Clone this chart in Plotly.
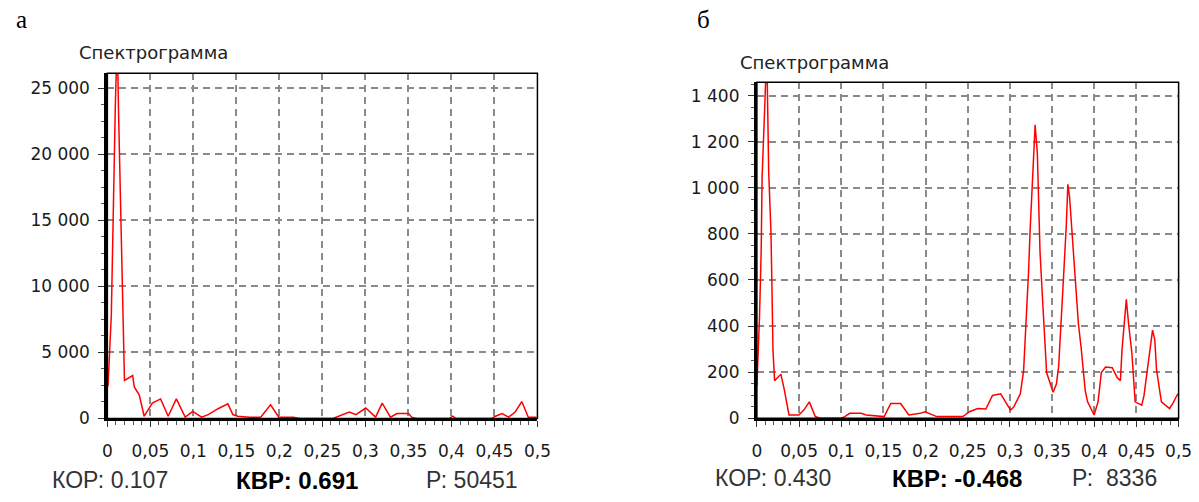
import plotly.graph_objects as go

W, H = 1199, 502

# ---------------- data ----------------
freq_a = [0.0, 0.0008, 0.0046, 0.0065, 0.0077, 0.0092, 0.0115, 0.0130, 0.0149, 0.0168,
          0.0187, 0.0199, 0.0294, 0.0313, 0.0371, 0.0428, 0.0523, 0.0619, 0.0707, 0.0802,
          0.0905, 0.0993, 0.1096, 0.1172, 0.1287, 0.1401, 0.1459, 0.1515, 0.1649, 0.1783,
          0.1897, 0.1993, 0.2164, 0.2240, 0.2622, 0.2661, 0.2813, 0.2890, 0.3004, 0.3119,
          0.3195, 0.3291, 0.3367, 0.3501, 0.3539, 0.3596, 0.3977, 0.4016, 0.4054, 0.4470,
          0.4512, 0.4589, 0.4665, 0.4741, 0.4818, 0.4894, 0.4989]
power_a = [2400, 2514, 7814, 12990, 18290, 23470, 29000, 23220, 17300, 11630,
           5720, 2884, 3254, 2391, 1775, 173, 1160, 1480, 173, 1480,
           100, 542, 100, 296, 740, 1109, 296, 173, 100, 100,
           1035, 100, 100, 0, 0, 100, 493, 296, 789, 100,
           1160, 100, 370, 370, 100, 0, 0, 173, 0, 0,
           173, 370, 100, 493, 1282, 100, 100]

freq_b = [0.0, 0.0031, 0.0051, 0.0062, 0.0090, 0.0117, 0.0140, 0.0167, 0.0179, 0.0191,
          0.0210, 0.0284, 0.0323, 0.0381, 0.0498, 0.0556, 0.0622, 0.0692, 0.0750, 0.1000,
          0.1042, 0.1100, 0.1237, 0.1295, 0.1509, 0.1587, 0.1704, 0.1801, 0.1937, 0.1995,
          0.2132, 0.2442, 0.2520, 0.2618, 0.2715, 0.2793, 0.2890, 0.3007, 0.3046, 0.3123,
          0.3162, 0.3201, 0.3221, 0.3240, 0.3267, 0.3299, 0.3325, 0.3338, 0.3357, 0.3388,
          0.3415, 0.3435, 0.3512, 0.3551, 0.3578, 0.3610, 0.3637, 0.3668, 0.3687, 0.3707,
          0.3726, 0.3753, 0.3784, 0.3812, 0.3843, 0.3870, 0.3893, 0.3921, 0.3998, 0.4045,
          0.4084, 0.4134, 0.4213, 0.4271, 0.4310, 0.4329, 0.4356, 0.4380, 0.4407, 0.4446,
          0.4485, 0.4563, 0.4590, 0.4621, 0.4660, 0.4691, 0.4718, 0.4738, 0.4796, 0.4893,
          0.4932, 0.4990]
power_b = [141, 438, 728, 1049, 1323, 1600, 1069, 806, 558, 290,
           163, 191, 127, 14, 14, 35, 71, 7, 0, 0,
           7, 21, 21, 14, 7, 64, 64, 14, 21, 28,
           7, 7, 28, 42, 40, 99, 106, 35, 49, 106,
           205, 466, 636, 820, 1011, 1274, 1150, 960, 721, 509,
           311, 198, 113, 148, 226, 466, 622, 834, 1015, 961,
           862, 707, 537, 410, 311, 212, 120, 71, 14, 71,
           198, 222, 219, 177, 163, 297, 424, 516, 410, 283,
           71, 57, 99, 184, 297, 382, 339, 212, 71, 42,
           64, 106]

x_tickvals = [0, 0.05, 0.1, 0.15, 0.2, 0.25, 0.3, 0.35, 0.4, 0.45, 0.5]
x_ticktext = ["0", "0,05", "0,1", "0,15", "0,2", "0,25", "0,3", "0,35", "0,4", "0,45", "0,5"]

y_tickvals_a = [0, 5000, 10000, 15000, 20000, 25000]
y_ticktext_a = ["0", "5 000", "10 000", "15 000", "20 000", "25 000"]
y_tickvals_b = [0, 200, 400, 600, 800, 1000, 1200, 1400]
y_ticktext_b = ["0", "200", "400", "600", "800", "1 000", "1 200", "1 400"]

panel_labels = ["а", "б"]
chart_title = "Спектрограмма"
stats_a = ["КОР: 0.107", "КВР: 0.691", "Р: 50451"]
stats_b = ["КОР: 0.430", "КВР: -0.468", "Р:  8336"]

# ---------------- figure ----------------
fig = go.Figure()
fig.add_trace(go.Scatter(x=freq_a, y=power_a, mode="lines",
                         line=dict(color="#ff0000", width=1.5), xaxis="x", yaxis="y",
                         showlegend=False, hoverinfo="skip"))
fig.add_trace(go.Scatter(x=freq_b, y=power_b, mode="lines",
                         line=dict(color="#ff0000", width=1.5), xaxis="x2", yaxis="y2",
                         showlegend=False, hoverinfo="skip"))

tickfont = dict(family="DejaVu Sans", size=17, color="#1a1a1a")
grid = dict(showgrid=True, gridcolor="#8a8a8a", gridwidth=1.5, griddash="7px,5px")

def xaxis(domain, anchor):
    return dict(domain=domain, anchor=anchor, range=[0, 0.5], tickvals=x_tickvals,
                ticktext=x_ticktext, ticks="outside", ticklen=6, tickwidth=1, tickcolor="#333",
                ticklabelstandoff=9,
                minor=dict(dtick=0.01, ticks="outside", ticklen=4, tickwidth=1, tickcolor="#555",
                           showgrid=False, tick0=0),
                showline=True, linewidth=3, linecolor="black", zeroline=False,
                tickfont=tickfont, fixedrange=True, **grid)

def yaxis(domain, anchor, rng, tv, tt, minor_dt):
    return dict(domain=domain, anchor=anchor, range=rng, tickvals=tv, ticktext=tt,
                ticks="outside", ticklen=6, tickwidth=1, tickcolor="#333",
                ticklabelstandoff=5,
                minor=dict(dtick=minor_dt, ticks="outside", ticklen=3, tickwidth=1,
                           tickcolor="#555", showgrid=False, tick0=0),
                showline=True, linewidth=3, linecolor="black", zeroline=False,
                tickfont=tickfont, fixedrange=True, **grid)

xa_dom = [104 / W, 541 / W]
ya_dom = [(H - 427) / H, (H - 74.7) / H]
xb_dom = [764 / W, 1192.5 / W]
yb_dom = [(H - 426.7) / H, (H - 84) / H]

fig.update_layout(
    width=W, height=H, margin=dict(l=0, r=0, t=0, b=0),
    paper_bgcolor="white", plot_bgcolor="white",
    xaxis=xaxis(xa_dom, "y"),
    yaxis=yaxis(ya_dom, "x", [0, 26130], y_tickvals_a, y_ticktext_a, 1250),
    xaxis2=xaxis(xb_dom, "y2"),
    yaxis2=yaxis(yb_dom, "x2", [0, 1458], y_tickvals_b, y_ticktext_b, 50),
)

# thin frame on top/right
for xr, yr in (("x domain", "y domain"), ("x2 domain", "y2 domain")):
    fig.add_shape(type="rect", xref=xr, yref=yr, x0=0, x1=1, y0=0, y1=1,
                  line=dict(color="black", width=1.5), layer="above")

def ann(text, px, py, size, family, xanchor="left", bold=False, color="#222"):
    fig.add_annotation(text=("<b>%s</b>" % text) if bold else text,
                       x=px / W, y=1 - py / H, xref="paper", yref="paper",
                       xanchor=xanchor, yanchor="middle", showarrow=False,
                       font=dict(family=family, size=size, color=color))

ann(panel_labels[0], 17, 20, 25, "Liberation Serif", xanchor="center", color="#000")
ann(panel_labels[1], 710, 20, 25, "Liberation Serif", xanchor="center", color="#000")
ann(chart_title, 73, 54, 18, "DejaVu Sans")
ann(chart_title, 745, 64, 18, "DejaVu Sans")

statfont = "Liberation Sans"
ann(stats_a[0], 46, 490, 23, statfont, color="#333")
ann(stats_a[1], 233, 490, 24, statfont, bold=True, color="#000")
ann(stats_a[2], 426, 490, 23, statfont, color="#333")
ann(stats_b[0], 719, 488, 23, statfont, color="#333")
ann(stats_b[1], 899, 488, 24, statfont, bold=True, color="#000")
ann(stats_b[2], 1082, 488, 23, statfont, color="#333")

fig.write_html("out.html")
